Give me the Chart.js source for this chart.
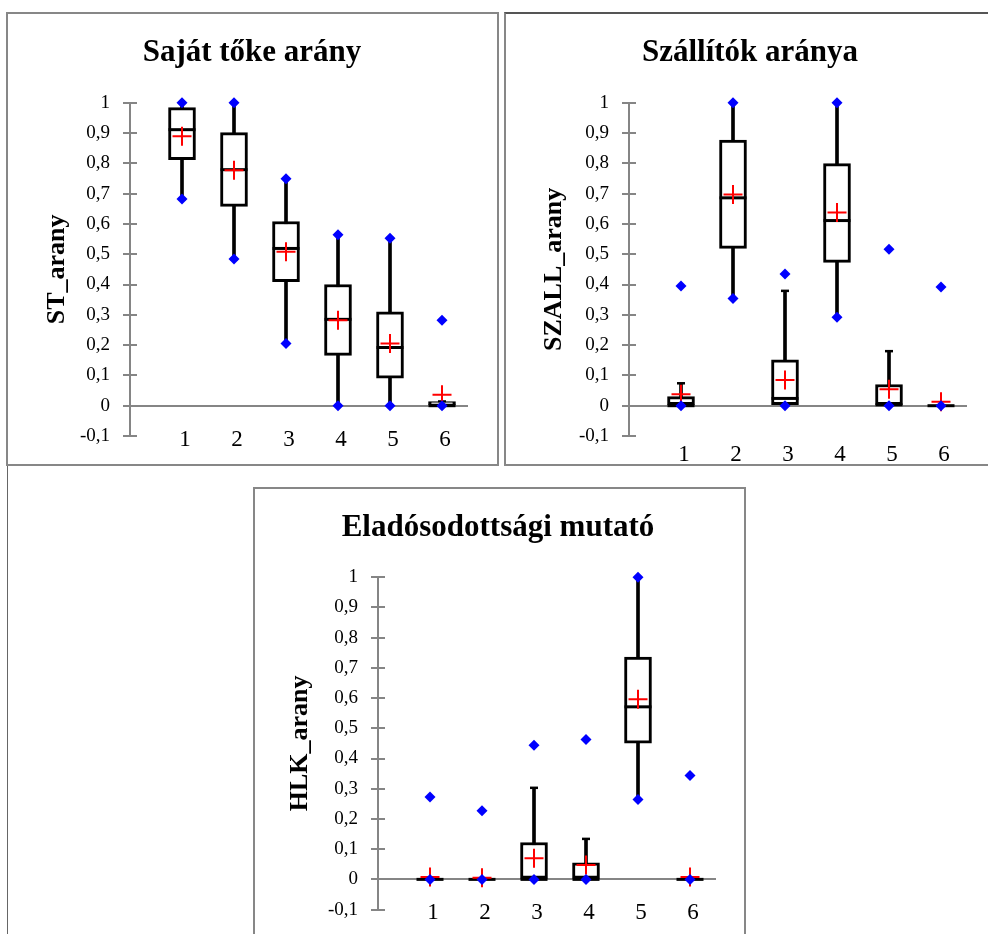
<!DOCTYPE html>
<html>
<head>
<meta charset="utf-8">
<script src="https://cdn.jsdelivr.net/npm/chart.js@4.4.1/dist/chart.umd.min.js"></script>
<style>
body { margin: 0; background: #fff; width: 988px; height: 934px; overflow: hidden; position: relative; }
.panel { position: absolute; border: 2px solid #878787; box-sizing: border-box; background: #fff; }
canvas { position: absolute; }
</style>
</head>
<body>
<div class="panel" style="left:6px;top:12px;width:493px;height:454px"></div>
<div class="panel" style="left:504px;top:12px;width:500px;height:454px;border-top-color:#555"></div>
<div class="panel" style="left:253px;top:487px;width:493px;height:470px"></div>
<div style="position:absolute;left:7px;top:466px;width:1px;height:468px;background:#666"></div>
<canvas id="chartST" width="489" height="450" style="left:8px;top:14px"></canvas>
<canvas id="chartSZALL" width="482" height="450" style="left:506px;top:14px"></canvas>
<canvas id="chartHLK" width="489" height="445" style="left:255px;top:489px"></canvas>
<script>
// csoportok (klaszterek)
var groups = [1, 2, 3, 4, 5, 6];
var yMin = -0.1, yMax = 1, yStep = 0.1;

// Saját tőke arány
var stMin      = [0.682, 0.484, 0.205, 0, 0, 0];
var stQ1       = [0.812, 0.658, 0.409, 0.166, 0.091, 0];
var stMedian   = [0.911, 0.779, 0.519, 0.285, 0.192, 0];
var stQ3       = [0.984, 0.901, 0.608, 0.400, 0.310, 0.014];
var stMax      = [1, 1, 0.749, 0.564, 0.553, 0.282];
var stMean     = [0.889, 0.777, 0.508, 0.282, 0.205, 0.036];
var stWhiskLo  = [0.682, 0.484, 0.205, 0, 0, 0];
var stWhiskHi  = [1, 1, 0.749, 0.564, 0.553, 0.014];

// Szállítók aránya
var szMin      = [0, 0.354, 0, 0.292, 0, 0];
var szQ1       = [0, 0.519, 0, 0.473, 0, 0];
var szMedian   = [0, 0.686, 0.024, 0.611, 0.003, 0];
var szQ3       = [0.030, 0.877, 0.151, 0.799, 0.070, 0];
var szMax      = [0.395, 1, 0.435, 1, 0.516, 0.392];
var szMean     = [0.038, 0.697, 0.085, 0.638, 0.054, 0.013];
var szWhiskLo  = [0, 0.354, 0, 0.292, 0, 0];
var szWhiskHi  = [0.074, 1, 0.379, 1, 0.180, 0];

// Eladósodottsági mutató
var hlkMin     = [0, 0, 0, 0, 0.264, 0];
var hlkQ1      = [0, 0, 0, 0, 0.451, 0];
var hlkMedian  = [0, 0, 0, 0, 0.571, 0];
var hlkQ3      = [0, 0, 0.122, 0.055, 0.736, 0];
var hlkMax     = [0.273, 0.227, 0.444, 0.463, 1, 0.344];
var hlkMean    = [0.008, 0.005, 0.070, 0.048, 0.596, 0.008];
var hlkWhiskLo = [0, 0, 0, 0, 0.264, 0];
var hlkWhiskHi = [0, 0, 0.303, 0.134, 1, 0];

var serif = "'Liberation Serif', 'Times New Roman', serif";
var axisGrey = '#858585';

// a tengely belső oldalán is legyen tick (Excel-stílus)
var innerTicks = {
    id: 'innerTicks',
    beforeDatasetsDraw: function(chart) {
        var y = chart.scales.y, left = chart.chartArea.left, ctx = chart.ctx;
        ctx.save();
        ctx.strokeStyle = axisGrey;
        ctx.lineWidth = 2;
        y.ticks.forEach(function(t) {
            var p = Math.round(y.getPixelForValue(t.value));
            ctx.beginPath();
            ctx.moveTo(left, p);
            ctx.lineTo(left + 7, p);
            ctx.stroke();
        });
        ctx.restore();
    }
};

function pts(arr) {
    return groups.map(function(g, i) { return { x: g, y: arr[i] }; });
}

function boxplot(id, title, yTitle, s, lay) {
    var ctx = document.getElementById(id).getContext('2d');
    return new Chart(ctx, {
        type: 'bar',
        data: {
            datasets: [
                {   // min / max
                    type: 'scatter', data: pts(s.min).concat(pts(s.max)),
                    pointStyle: 'rectRot', pointRadius: 5.5, pointBackgroundColor: '#0000ff',
                    pointBorderWidth: 0, clip: false, order: 1
                },
                {   // átlag
                    type: 'scatter', data: pts(s.mean),
                    pointStyle: 'cross', pointRadius: 9.5, pointBorderColor: '#ff0000',
                    pointBorderWidth: 2, clip: false, order: 2
                },
                {   // medián
                    type: 'scatter', data: pts(s.median),
                    pointStyle: 'line', pointRadius: 13.5, pointBorderColor: '#000',
                    pointBorderWidth: 3, clip: false, order: 3
                },
                {   // doboz Q1-Q3
                    type: 'bar', data: groups.map(function(g, i) { return { x: g, y: [s.q1[i], s.q3[i]] }; }),
                    backgroundColor: '#fff', borderColor: '#000', borderWidth: 3,
                    borderSkipped: false, barThickness: 27, grouped: false, clip: false, order: 4
                },
                {   // bajusz végek
                    type: 'scatter', data: pts(s.whiskLo).concat(pts(s.whiskHi)),
                    pointStyle: 'line', pointRadius: 4, pointBorderColor: '#000',
                    pointBorderWidth: 2.5, clip: false, order: 5
                },
                {   // bajusz
                    type: 'bar', data: groups.map(function(g, i) { return { x: g, y: [s.whiskLo[i], s.whiskHi[i]] }; }),
                    backgroundColor: '#000', borderWidth: 0, barThickness: 3,
                    grouped: false, clip: false, order: 6
                }
            ]
        },
        options: {
            responsive: false,
            animation: false,
            events: [],
            layout: { padding: { left: lay.padLeft, right: lay.padRight, top: 0, bottom: lay.padBottom } },
            plugins: {
                legend: { display: false },
                tooltip: { enabled: false },
                title: {
                    display: true, text: title, color: '#000',
                    font: { family: serif, size: 31, weight: 'bold', lineHeight: 1.2 },
                    padding: { top: 20, bottom: lay.titleBottom }
                }
            },
            scales: {
                x: {
                    type: 'linear', min: 0, max: 6.5, offset: false,
                    position: { y: yMin },
                    grid: { display: false, drawTicks: false },
                    border: { display: false },
                    afterBuildTicks: function(sc) { sc.ticks = groups.map(function(g) { return { value: g }; }); },
                    ticks: {
                        autoSkip: false, maxRotation: 0, color: '#000',
                        font: { family: serif, size: 23 },
                        padding: lay.xPad, labelOffset: 3
                    }
                },
                y: {
                    min: yMin, max: yMax,
                    afterFit: function(sc) { sc.width = lay.yWidth; },
                    grid: {
                        color: function(c) { return c.tick && Math.abs(c.tick.value) < 1e-9 ? axisGrey : 'rgba(0,0,0,0)'; },
                        lineWidth: 2, tickColor: axisGrey, tickWidth: 2, tickLength: 7
                    },
                    border: { display: true, color: axisGrey, width: 2 },
                    ticks: {
                        stepSize: yStep, autoSkip: false, color: '#000', padding: 13,
                        font: { family: serif, size: 19 },
                        callback: function(v) { return String(Math.round(v * 10) / 10).replace('.', ','); }
                    },
                    title: {
                        display: true, text: yTitle, color: '#000',
                        font: { family: serif, size: 26, weight: 'bold', lineHeight: 1.2 },
                        padding: { top: lay.yTitlePad, bottom: 0 }
                    }
                }
            }
        },
        plugins: [innerTicks]
    });
}

boxplot('chartST', 'Saját tőke arány', 'ST_arany',
    { min: stMin, q1: stQ1, median: stMedian, q3: stQ3, max: stMax, mean: stMean, whiskLo: stWhiskLo, whiskHi: stWhiskHi },
    { padLeft: 28, padRight: 29, padBottom: 28, yWidth: 94, titleBottom: 31.5, xPad: -10, yTitlePad: 6 });

boxplot('chartSZALL', 'Szállítók aránya', 'SZALL_arany',
    { min: szMin, q1: szQ1, median: szMedian, q3: szQ3, max: szMax, mean: szMean, whiskLo: szWhiskLo, whiskHi: szWhiskHi },
    { padLeft: 27, padRight: 21, padBottom: 28, yWidth: 96, titleBottom: 31.5, xPad: 5, yTitlePad: 6 });

boxplot('chartHLK', 'Eladósodottsági mutató', 'HLK_arany',
    { min: hlkMin, q1: hlkQ1, median: hlkMedian, q3: hlkQ3, max: hlkMax, mean: hlkMean, whiskLo: hlkWhiskLo, whiskHi: hlkWhiskHi },
    { padLeft: 25, padRight: 28, padBottom: 23, yWidth: 98, titleBottom: 31, xPad: -10, yTitlePad: 5 });
</script>
</body>
</html>
